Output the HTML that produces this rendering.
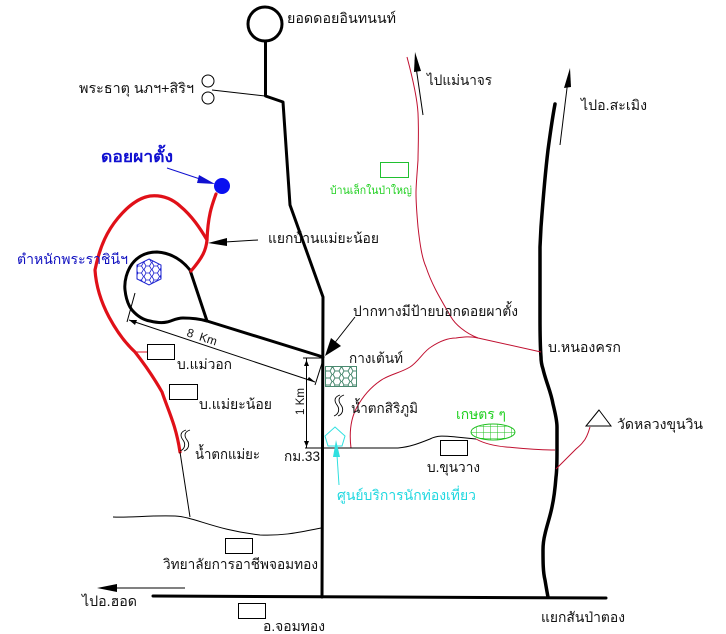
<!DOCTYPE html>
<html><head><meta charset="utf-8"><style>
html,body{margin:0;padding:0;background:#fff}
svg{display:block}
text{font-family:"Liberation Sans","DejaVu Sans","Noto Sans CJK SC",sans-serif;font-size:14px;fill:#111}
.k{fill:none;stroke:#000;stroke-linejoin:round;stroke-linecap:round}
.r{fill:none;stroke:#c01030;stroke-width:1}
.R{fill:none;stroke:#e01018;stroke-width:3.200;stroke-linejoin:round;stroke-linecap:round}
.b{fill:#fff;stroke:#000;stroke-width:1}
</style></head><body>
<svg width="726" height="634" viewBox="0 0 726 634" xmlns="http://www.w3.org/2000/svg">
<defs>
<pattern id="hx" width="9" height="7" patternUnits="userSpaceOnUse"><path d="M0 3.5L2 0H6L8 3.5L6 7H2ZM8 3.5H9" fill="none" stroke="#4a8a70" stroke-width="1"/></pattern>
<pattern id="hb" width="8" height="7" patternUnits="userSpaceOnUse"><path d="M0 3.5L2 0H5.5L7.5 3.5L5.5 7H2ZM7.5 3.5H8" fill="none" stroke="#1a20d0" stroke-width=".8"/></pattern>
<pattern id="gr" width="7" height="6" patternUnits="userSpaceOnUse"><path d="M0 0H7M0 0V6" fill="none" stroke="#20c020" stroke-width="1"/></pattern>
</defs>

<!-- Main black roads -->
<circle cx="265" cy="24" r="17" fill="#fff" stroke="#000" stroke-width="3"/>
<path class="k" stroke-width="3" d="M265.500 42V96L283 102L290 205L323 297L322 597"/>
<path class="k" stroke-width="3" d="M190 270C182 260 172 253 157 252C146 252 138 256 132 264C127 271 124 281 125 290C126 299 128 305 132 310C138 317 144 320 150 321C158 323 163 323 167 322C172 321 176 318 183 318C192 318 200 319 207 321L323 357"/>
<path class="k" stroke-width="3" d="M190 270L207 321"/>
<path class="k" stroke-width="3.500" d="M555 104C552 120 550 135 548 150C545 175 543 200 541 227L540 247V317C540 335 540 345 541 357C541 363 542 366 543 369C546 382 551 392 553 404C555 412 557 420 557 427V450C557 462 557 470 556 477C555 490 554 498 552 507C550 517 547 525 545 534C543 542 543 546 543 550C543 562 543 572 545 580C546 586 547 592 548 597"/>
<path class="k" stroke-width="3" d="M153 596L606 598"/>

<!-- Red route -->
<path class="R" d="M216 194C212 205 208 215 207 240C206 250 203 257 191 271"/>
<path class="R" d="M207 240C200 228 192 216 180 206C170 197 160 195 150 196C138 198 128 206 118 218C108 230 100 245 95 270C96 285 100 300 109 317C116 330 124 342 135 352C146 366 154 378 162 392C168 410 176 425 180 452"/>
<line x1="135" y1="352" x2="147" y2="352" stroke="#e01020"/>

<!-- Thin red -->
<path class="r" d="M407 57C411 72 417 95 418 113C419 135 418 150 418 160C417 175 416 185 416 193C416 205 417 215 418 227C420 245 422 258 426 267C432 285 440 298 451 317C455 324 465 333 478 338"/>
<path class="r" d="M351 448C349 432 351 418 357 407C362 398 370 387 383 379C392 374 402 372 410 367C418 362 424 351 431 347C440 341 448 338 456 338C463 337 470 336 478 338L541 352"/>
<path class="r" d="M476 439C485 444 495 446 506 447C520 448 535 450 555 450"/>
<path class="r" d="M590 427C588 434 586 439 583 442C581 445 578 447 576 449L556 469"/>

<!-- Thin black -->
<path fill="none" stroke="#000" d="M351 448H398C410 447 420 443 430 439C438 435 445 436 456 437L476 439"/>
<path fill="none" stroke="#000" d="M305 448H351"/>
<path fill="none" stroke="#000" d="M113 517C130 518 150 515 175 516C195 517 215 530 260 535C285 536 300 532 321 528"/>
<line x1="180" y1="452" x2="190" y2="517" stroke="#000"/>
<path fill="none" stroke="#000" d="M212 90L265 96"/>
<circle cx="208" cy="81" r="6" class="b"/>
<circle cx="208" cy="98" r="6" class="b"/>

<!-- Dimensions -->
<line x1="129" y1="320" x2="315" y2="382" stroke="#000"/>
<line x1="135" y1="293" x2="127" y2="322" stroke="#000"/>
<line x1="323" y1="360" x2="315" y2="385" stroke="#000"/>
<line x1="306.500" y1="358" x2="306.500" y2="448" stroke="#000"/>
<line x1="303" y1="358" x2="322" y2="358" stroke="#000"/>
<polygon points="306.500,360 304,366 309,366" fill="#000"/>
<polygon points="306.500,447 304,441 309,441" fill="#000"/>
<polygon points="129,320 137,320 135,325" fill="#000"/>
<polygon points="315,382 307,380 309,377" fill="#000"/>

<!-- Arrows -->
<line x1="423" y1="115" x2="415" y2="60" stroke="#000"/>
<polygon points="415,52 421,71 414,72" fill="#000"/>
<line x1="560" y1="145" x2="568" y2="80" stroke="#000"/>
<polygon points="570,68 571,87 564,88" fill="#000"/>
<line x1="185" y1="588" x2="100" y2="588" stroke="#000"/>
<polygon points="97,588 117,584 117,592" fill="#000"/>
<line x1="258" y1="240" x2="225" y2="242" stroke="#000"/>
<polygon points="208,243 227,238 227,246" fill="#000"/>
<line x1="355" y1="317" x2="333" y2="345" stroke="#000"/>
<polygon points="325,356 331,338 341,346" fill="#000"/>
<line x1="167" y1="168" x2="200" y2="179" stroke="#1010d0"/>
<polygon points="215,184 199,175 197,183" fill="#1010d0"/>
<circle cx="222" cy="186" r="8" fill="#0a10f0"/>

<!-- Rects -->
<rect x="147.500" y="344.500" width="27" height="15" class="b"/>
<rect x="169.500" y="384.500" width="28" height="15" class="b"/>
<rect x="225.500" y="538.500" width="27" height="15" class="b"/>
<rect x="238.500" y="603.500" width="27" height="15" class="b"/>
<rect x="440.500" y="440.500" width="27" height="15" class="b"/>
<rect x="380.500" y="162.500" width="28" height="15" fill="#fff" stroke="#20c030"/>

<!-- Fills -->
<rect x="325.500" y="366.500" width="31" height="20" fill="url(#hx)" stroke="#4a8a70"/>
<polygon points="149,259 161,265 161,279 149,285 137,279 137,265" fill="url(#hb)" stroke="#1a20d0"/>
<ellipse cx="493" cy="432" rx="22" ry="8" fill="url(#gr)" stroke="#20c020"/>
<polygon points="335,427 345,436 342,446 328,446 325,436" fill="#fff" stroke="#30e0e0"/>
<line x1="339" y1="485" x2="337" y2="455" stroke="#30e0e0"/>
<polygon points="336,440 340,457 333,457" fill="#30e0e0"/>
<polygon points="599,410 586,426 611,426" fill="#fff" stroke="#000"/>

<!-- Waterfalls -->
<g fill="none" stroke="#000" stroke-width=".9">
<path d="M190 430C184 432 184 436 187 440C190 444 189 449 184 451"/>
<path d="M186 430C180 432 180 436 183 440C186 444 185 449 180 451"/>
<path d="M344 395C338 397 338 401 341 405C344 409 343 414 338 416"/>
<path d="M340 395C334 397 334 401 337 405C340 409 339 414 334 416"/>
</g>

<!-- Labels -->
<text x="287" y="23" textLength="109" lengthAdjust="spacingAndGlyphs">ยอดดอยอินทนนท์</text>
<text x="79" y="93" textLength="115" lengthAdjust="spacingAndGlyphs">พระธาตุ นภฯ+สิริฯ</text>
<text x="101" y="162" textLength="72" lengthAdjust="spacingAndGlyphs" style="fill:#1010d0;font-size:16px;font-weight:bold">ดอยผาตั้ง</text>
<text x="17" y="264" textLength="111" lengthAdjust="spacingAndGlyphs" style="fill:#1010c0">ตำหนักพระราชินีฯ</text>
<text x="268" y="243" textLength="111" lengthAdjust="spacingAndGlyphs">แยกบ้านแม่ยะน้อย</text>
<text x="427" y="85" textLength="65" lengthAdjust="spacingAndGlyphs">ไปแม่นาจร</text>
<text x="581" y="110" textLength="66" lengthAdjust="spacingAndGlyphs">ไปอ.สะเมิง</text>
<text x="330" y="194" textLength="82" lengthAdjust="spacingAndGlyphs" style="fill:#20d020;font-size:11px">บ้านเล็กในป่าใหญ่</text>
<text x="353" y="316" textLength="165" lengthAdjust="spacingAndGlyphs">ปากทางมีป้ายบอกดอยผาตั้ง</text>
<text x="548" y="352" textLength="73" lengthAdjust="spacingAndGlyphs">บ.หนองครก</text>
<text x="349" y="363" textLength="54" lengthAdjust="spacingAndGlyphs">กางเต้นท์</text>
<text x="351" y="413" textLength="67" lengthAdjust="spacingAndGlyphs">น้ำตกสิริภูมิ</text>
<text x="456" y="419" textLength="50" lengthAdjust="spacingAndGlyphs" style="fill:#20d020">เกษตร ๆ</text>
<text x="617" y="429" textLength="86" lengthAdjust="spacingAndGlyphs">วัดหลวงขุนวิน</text>
<text x="427" y="472" textLength="53" lengthAdjust="spacingAndGlyphs">บ.ขุนวาง</text>
<text x="337" y="500" textLength="139" lengthAdjust="spacingAndGlyphs" style="fill:#20d8e0">ศูนย์บริการนักท่องเที่ยว</text>
<text x="177" y="369" textLength="55" lengthAdjust="spacingAndGlyphs">บ.แม่วอก</text>
<text x="199" y="409" textLength="73" lengthAdjust="spacingAndGlyphs">บ.แม่ยะน้อย</text>
<text x="195" y="459" textLength="65" lengthAdjust="spacingAndGlyphs">น้ำตกแม่ยะ</text>
<text x="284" y="461" textLength="36" lengthAdjust="spacingAndGlyphs">กม.33</text>
<text x="163" y="569" textLength="155" lengthAdjust="spacingAndGlyphs">วิทยาลัยการอาชีพจอมทอง</text>
<text x="82" y="606" textLength="55" lengthAdjust="spacingAndGlyphs">ไปอ.ฮอด</text>
<text x="263" y="631" textLength="62" lengthAdjust="spacingAndGlyphs">อ.จอมทอง</text>
<text x="541" y="622" textLength="84" lengthAdjust="spacingAndGlyphs">แยกสันป่าตอง</text>
<text transform="translate(186,336) rotate(18)" textLength="31" lengthAdjust="spacingAndGlyphs" style="font-size:12px">8&#160;&#160;Km</text>
<text transform="translate(304,415) rotate(-90)" textLength="27" lengthAdjust="spacingAndGlyphs" style="font-size:12px">1 Km</text>
</svg>
</body></html>
